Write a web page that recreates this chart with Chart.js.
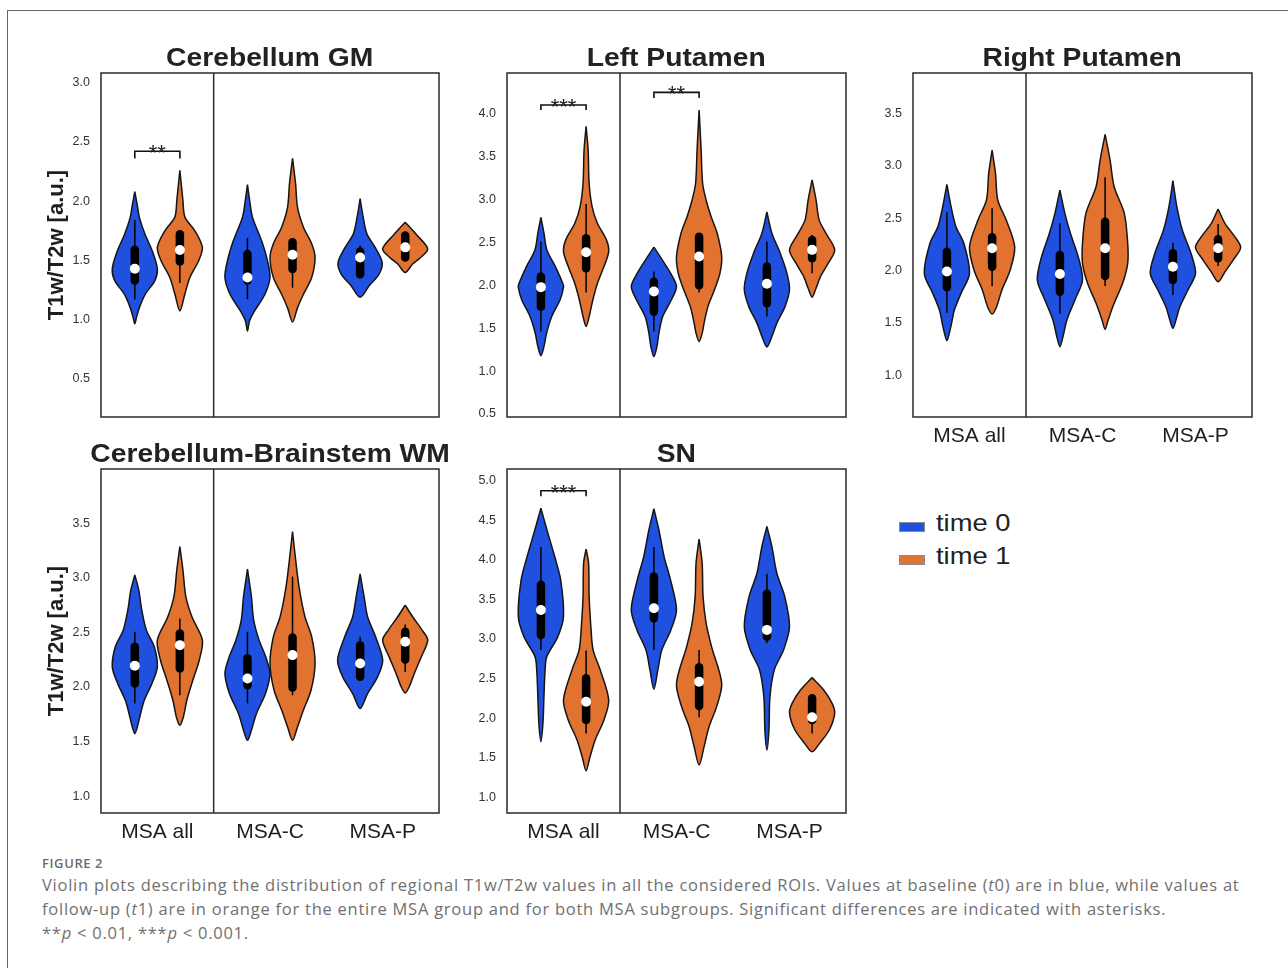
<!DOCTYPE html>
<html>
<head>
<meta charset="utf-8">
<script src="https://cdn.jsdelivr.net/npm/chart.js@4.4.0/dist/chart.umd.min.js"></script>
<style>
html,body{margin:0;padding:0;background:#fff;}
body{width:1288px;height:968px;position:relative;overflow:hidden;font-family:'Liberation Sans',Arial,sans-serif;}
canvas{position:absolute;}
.ptitle{position:absolute;width:600px;text-align:center;font-weight:bold;font-size:25px;line-height:25px;color:#222;white-space:nowrap;}
.ptitle span{display:inline-block;transform:scaleX(1.13);}
.legsw{position:absolute;width:26px;height:10px;box-sizing:border-box;border:1px solid #8a8a8a;}
.legtx{position:absolute;font-size:24px;line-height:24px;color:#222;white-space:nowrap;transform:scaleX(1.14);transform-origin:left center;}
.frame{position:absolute;background:#666;}
#figlabel{position:absolute;left:42px;top:857px;font-family:'Open Sans',sans-serif;font-weight:600;font-size:13px;line-height:13px;color:#6b6b6b;letter-spacing:0.6px;white-space:nowrap;}
#caption{position:absolute;left:42px;top:872.5px;font-family:'Open Sans',sans-serif;font-size:16.5px;line-height:24px;letter-spacing:0.75px;color:#707070;white-space:nowrap;}
</style>
</head>
<body>
<div class="frame" style="left:7px;top:10px;width:1281px;height:1px;"></div>
<div class="frame" style="left:7px;top:10px;width:1px;height:958px;"></div>
<div id="figlabel">FIGURE 2</div>
<div id="caption">Violin plots describing the distribution of regional T1w/T2w values in all the considered ROIs. Values at baseline (<i>t</i>0) are in blue, while values at<br>follow-up (<i>t</i>1) are in orange for the entire MSA group and for both MSA subgroups. Significant differences are indicated with asterisks.<br>**<i>p</i> &lt; 0.01, ***<i>p</i> &lt; 0.001.</div>
<script>
// ---------------- DATA ----------------
const categories = ['MSA all', 'MSA-C', 'MSA-P'];
const seriesNames = ['time 0', 'time 1'];
const yAxisLabel = 'T1w/T2w [a.u.]';

// tick values per panel
const gmTicks = [0.5, 1.0, 1.5, 2.0, 2.5, 3.0];
const lpTicks = [0.5, 1.0, 1.5, 2.0, 2.5, 3.0, 3.5, 4.0];
const rpTicks = [1.0, 1.5, 2.0, 2.5, 3.0, 3.5];
const wmTicks = [1.0, 1.5, 2.0, 2.5, 3.0, 3.5];
const snTicks = [1.0, 1.5, 2.0, 2.5, 3.0, 3.5, 4.0, 4.5, 5.0];

// violin outlines: [value, half-width (density, category units)] per category, top to bottom
// Cerebellum GM
const gmT0 = [
  [[2.08,0],[1.95,0.025],[1.865,0.04],[1.724,0.089],[1.58,0.155],[1.43,0.2],[1.33,0.178],[1.215,0.093],[1.10,0.04],[1.02,0.015],[0.966,0]],
  [[2.14,0],[2.0,0.02],[1.865,0.044],[1.667,0.125],[1.5,0.177],[1.356,0.2],[1.215,0.155],[1.074,0.063],[0.99,0.018],[0.904,0]],
  [[2.02,0],[1.865,0.027],[1.724,0.06],[1.61,0.133],[1.483,0.196],[1.384,0.168],[1.286,0.08],[1.19,0]]
];
const gmT1 = [
  [[2.26,0],[2.006,0.027],[1.865,0.045],[1.75,0.133],[1.61,0.2],[1.50,0.168],[1.356,0.089],[1.215,0.044],[1.074,0]],
  [[2.36,0],[2.147,0.027],[1.95,0.044],[1.78,0.097],[1.64,0.17],[1.525,0.2],[1.356,0.17],[1.215,0.097],[1.10,0.044],[0.98,0]],
  [[1.822,0],[1.724,0.093],[1.597,0.2],[1.513,0.123],[1.47,0.066],[1.398,0]]
];
// Left Putamen
const lpT0 = [
  [[2.79,0],[2.605,0.027],[2.41,0.053],[2.216,0.128],[2.02,0.194],[1.977,0.2],[1.83,0.17],[1.635,0.096],[1.44,0.05],[1.286,0.027],[1.178,0]],
  [[2.442,0],[2.294,0.074],[2.14,0.147],[1.984,0.2],[1.83,0.155],[1.635,0.078],[1.44,0.044],[1.286,0.027],[1.17,0]],
  [[2.852,0],[2.605,0.044],[2.372,0.118],[2.14,0.177],[1.946,0.2],[1.75,0.16],[1.558,0.088],[1.402,0.044],[1.28,0]]
];
const lpT1 = [
  [[3.85,0],[3.573,0.018],[3.186,0.027],[2.914,0.053],[2.72,0.1],[2.527,0.18],[2.39,0.2],[2.216,0.158],[2.02,0.1],[1.83,0.06],[1.635,0.027],[1.52,0]],
  [[4.04,0],[3.573,0.018],[3.186,0.031],[2.992,0.062],[2.8,0.106],[2.605,0.16],[2.333,0.2],[2.14,0.185],[1.946,0.136],[1.75,0.078],[1.558,0.044],[1.44,0.027],[1.344,0]],
  [[3.225,0],[2.992,0.035],[2.76,0.062],[2.605,0.122],[2.411,0.2],[2.256,0.143],[2.10,0.074],[1.965,0.035],[1.86,0]]
];
// Right Putamen
const rpT0 = [
  [[2.822,0],[2.609,0.037],[2.418,0.08],[2.26,0.15],[1.973,0.2],[1.782,0.125],[1.623,0.066],[1.464,0.035],[1.33,0]],
  [[2.768,0],[2.546,0.044],[2.355,0.093],[2.132,0.162],[1.91,0.2],[1.719,0.133],[1.528,0.062],[1.368,0.027],[1.273,0]],
  [[2.857,0],[2.609,0.035],[2.386,0.083],[2.164,0.16],[1.973,0.2],[1.814,0.133],[1.655,0.062],[1.528,0.027],[1.448,0]]
];
const rpT1 = [
  [[3.15,0],[2.927,0.03],[2.673,0.05],[2.482,0.125],[2.227,0.2],[2.005,0.16],[1.81,0.085],[1.655,0.04],[1.585,0]],
  [[3.30,0],[3.054,0.044],[2.80,0.08],[2.546,0.17],[2.26,0.2],[2.069,0.2],[1.878,0.155],[1.687,0.08],[1.528,0.027],[1.439,0]],
  [[2.587,0],[2.45,0.06],[2.323,0.148],[2.22,0.2],[2.10,0.133],[1.989,0.062],[1.893,0]]
];
// Cerebellum-Brainstem WM
const wmT0 = [
  [[3.026,0],[2.888,0.035],[2.704,0.062],[2.52,0.103],[2.368,0.173],[2.184,0.2],[2.032,0.152],[1.879,0.084],[1.726,0.044],[1.634,0.022],[1.573,0]],
  [[3.078,0],[2.827,0.035],[2.613,0.055],[2.429,0.103],[2.276,0.162],[2.124,0.2],[1.94,0.16],[1.757,0.08],[1.604,0.035],[1.512,0]],
  [[3.035,0],[2.827,0.035],[2.643,0.066],[2.46,0.137],[2.245,0.2],[2.093,0.155],[1.94,0.066],[1.803,0]]
];
const wmT1 = [
  [[3.285,0],[3.072,0.027],[2.827,0.053],[2.643,0.107],[2.429,0.2],[2.245,0.172],[2.062,0.115],[1.879,0.062],[1.726,0.031],[1.65,0]],
  [[3.423,0],[3.133,0.031],[2.888,0.062],[2.643,0.11],[2.46,0.17],[2.215,0.2],[1.97,0.164],[1.787,0.096],[1.634,0.044],[1.512,0]],
  [[2.75,0],[2.643,0.066],[2.521,0.15],[2.429,0.2],[2.276,0.143],[2.124,0.081],[2.0,0.035],[1.946,0]]
];
// SN
const snT0 = [
  [[4.65,0],[4.378,0.053],[4.04,0.122],[3.746,0.175],[3.283,0.2],[3.03,0.15],[2.778,0.052],[2.61,0.037],[2.273,0.027],[1.937,0.018],[1.705,0]],
  [[4.643,0],[4.378,0.044],[4.04,0.09],[3.746,0.147],[3.367,0.2],[3.115,0.15],[2.86,0.07],[2.61,0.035],[2.366,0]],
  [[4.42,0],[4.167,0.044],[3.83,0.088],[3.535,0.158],[3.157,0.2],[2.86,0.147],[2.61,0.065],[2.273,0.027],[1.853,0.018],[1.6,0]]
];
const snT1 = [
  [[4.134,0],[3.957,0.022],[3.535,0.027],[3.115,0.044],[2.86,0.062],[2.61,0.125],[2.231,0.2],[1.98,0.158],[1.73,0.081],[1.515,0.035],[1.338,0]],
  [[4.26,0],[3.957,0.027],[3.535,0.035],[3.2,0.062],[2.904,0.11],[2.442,0.2],[2.147,0.155],[1.894,0.088],[1.641,0.044],[1.41,0]],
  [[2.513,0],[2.357,0.103],[2.189,0.177],[2.063,0.2],[1.853,0.152],[1.684,0.066],[1.578,0]]
];

// inner box stats per category: [whisker low, q1, median, q3, whisker high]
const gmT0Box = [[1.17,1.33,1.43,1.59,1.84],[1.173,1.33,1.356,1.554,1.69],[1.384,1.384,1.525,1.575,1.625]];
const gmT1Box = [[1.31,1.49,1.588,1.72,1.72],[1.27,1.427,1.548,1.653,1.653],[1.51,1.525,1.61,1.71,1.724]];
const lpT0Box = [[1.46,1.75,1.977,2.10,2.507],[1.46,1.69,1.926,2.04,2.158],[1.635,1.79,2.016,2.216,2.507]];
const lpT1Box = [[1.914,2.198,2.384,2.547,2.945],[1.914,2.0,2.333,2.565,2.565],[2.14,2.314,2.411,2.527,2.585]];
const rpT0Box = [[1.597,1.84,1.99,2.18,2.555],[1.59,1.798,1.967,2.148,2.45],[1.766,1.91,2.036,2.164,2.265]];
const rpT1Box = [[1.852,2.036,2.212,2.317,2.594],[1.852,1.948,2.212,2.466,2.889],[2.043,2.116,2.212,2.298,2.444]];
const wmT0Box = [[1.849,2.032,2.194,2.368,2.505],[1.849,2.017,2.078,2.262,2.505],[2.093,2.093,2.215,2.383,2.46]];
const wmT1Box = [[1.925,2.17,2.383,2.49,2.628],[1.925,1.995,2.292,2.454,3.01],[2.138,2.252,2.414,2.505,2.573]];
const snT0Box = [[2.86,3.052,3.367,3.683,4.159],[2.86,3.262,3.389,3.788,4.159],[2.947,3.03,3.115,3.57,3.822]];
const snT1Box = [[1.81,1.98,2.21,2.505,2.854],[2.013,2.155,2.462,2.644,2.86],[1.81,1.98,2.013,2.253,2.294]];

// significance: [category index, bracket top, bracket end, label]
const gmSig = [[0, 2.42, 2.36, '**']];
const lpSig = [[0, 4.097, 4.04, '***'], [1, 4.244, 4.18, '**']];
const rpSig = [];
const wmSig = [];
const snSig = [[0, 4.87, 4.80, '***']];

// ---------------- STYLE / LAYOUT ----------------
const COLORS = ['#1f50e0', '#e27230'];
const EDGE = '#151515';
const DODGE = 0.2;
Chart.defaults.font.family = "'Liberation Sans', Arial, sans-serif";

const panels = [
  {title:'Cerebellum GM', left:101, top:73, w:338, h:344, yMin:0.18, yMax:3.08, ticks:gmTicks, t0:gmT0, t1:gmT1, b0:gmT0Box, b1:gmT1Box, sig:gmSig, yTitle:true, xLabels:false},
  {title:'Left Putamen', left:507, top:73, w:339, h:344, yMin:0.465, yMax:4.47, ticks:lpTicks, t0:lpT0, t1:lpT1, b0:lpT0Box, b1:lpT1Box, sig:lpSig, yTitle:false, xLabels:false},
  {title:'Right Putamen', left:913, top:73, w:339, h:344, yMin:0.602, yMax:3.885, ticks:rpTicks, t0:rpT0, t1:rpT1, b0:rpT0Box, b1:rpT1Box, sig:rpSig, yTitle:false, xLabels:true},
  {title:'Cerebellum-Brainstem WM', left:101, top:469, w:338, h:344, yMin:0.847, yMax:3.995, ticks:wmTicks, t0:wmT0, t1:wmT1, b0:wmT0Box, b1:wmT1Box, sig:wmSig, yTitle:true, xLabels:true},
  {title:'SN', left:507, top:469, w:339, h:344, yMin:0.806, yMax:5.144, ticks:snTicks, t0:snT0, t1:snT1, b0:snT0Box, b1:snT1Box, sig:snSig, yTitle:false, xLabels:true}
];

const annotPlugin = {
  id: 'annot',
  afterDatasetsDraw(chart, args, opts) {
    const {ctx, chartArea: a, scales: {x, y}} = chart;
    ctx.save();
    ctx.strokeStyle = '#2a2a2a';
    ctx.lineWidth = 1.5;
    ctx.strokeRect(a.left, a.top, a.right - a.left, a.bottom - a.top);
    ctx.fillStyle = '#222';
    ctx.font = "22px 'Liberation Sans', Arial, sans-serif";
    ctx.textAlign = 'center';
    ctx.textBaseline = 'alphabetic';
    (opts.sig || []).forEach(([c, top, end, label]) => {
      ctx.fillText(label, x.getPixelForValue(c), y.getPixelForValue(top) + 9);
    });
    ctx.restore();
  }
};

function makePanel(p) {
  const yW = p.yTitle ? 57 : 40;
  const padTop = 25, padRight = 25, xH = 45;
  const cw = yW + p.w + padRight, ch = padTop + p.h + xH;
  const cv = document.createElement('canvas');
  cv.width = cw; cv.height = ch;
  cv.style.left = (p.left - yW) + 'px';
  cv.style.top = (p.top - padTop) + 'px';
  cv.style.width = cw + 'px';
  cv.style.height = ch + 'px';
  document.body.appendChild(cv);

  // HTML title
  const t = document.createElement('div');
  t.className = 'ptitle';
  t.style.left = (p.left + p.w / 2 - 300) + 'px';
  t.style.top = (p.top - 28.5) + 'px';
  t.innerHTML = '<span></span>';
  t.firstChild.textContent = p.title;
  document.body.appendChild(t);

  const datasets = [];
  [[p.t0, p.b0], [p.t1, p.b1]].forEach(([profiles, boxes], s) => {
    const off = s === 0 ? -DODGE : DODGE;
    profiles.forEach((prof, c) => {
      const cx = c + off;
      const right = prof.map(([v, w]) => ({x: cx + w, y: v}));
      const left = prof.slice().reverse().map(([v, w]) => ({x: cx - w, y: v}));
      datasets.push({
        label: seriesNames[s] + ' ' + categories[c],
        data: right.concat(left.slice(1)),
        showLine: true, fill: 'shape', backgroundColor: COLORS[s],
        borderColor: EDGE, borderWidth: 1.5, pointRadius: 0, tension: 0.3, order: 10
      });
      const [wl, q1, med, q3, wh] = boxes[c];
      datasets.push({data: [{x: cx, y: wl}, {x: cx, y: wh}], showLine: true, borderColor: '#000', borderWidth: 1.5, pointRadius: 0, order: 8});
      datasets.push({data: [{x: cx, y: q1}, {x: cx, y: q3}], showLine: true, borderColor: '#000', borderWidth: 8.5, borderCapStyle: 'round', pointRadius: 0, order: 6});
      datasets.push({data: [{x: cx, y: med}], showLine: false, pointRadius: 5, pointBackgroundColor: '#fff', pointBorderWidth: 0, order: 4});
    });
  });
  // divider between MSA all and the subgroups
  datasets.push({data: [{x: 0.5, y: p.yMin}, {x: 0.5, y: p.yMax}], showLine: true, borderColor: '#2a2a2a', borderWidth: 1.5, pointRadius: 0, order: 12});
  // significance brackets
  p.sig.forEach(([c, top, end]) => {
    datasets.push({data: [{x: c - DODGE, y: end}, {x: c - DODGE, y: top}, {x: c + DODGE, y: top}, {x: c + DODGE, y: end}],
      showLine: true, borderColor: '#111', borderWidth: 1.6, pointRadius: 0, tension: 0, order: 12});
  });

  new Chart(cv, {
    type: 'scatter',
    data: {datasets},
    plugins: [annotPlugin],
    options: {
      responsive: false, animation: false, events: [],
      devicePixelRatio: 1,
      layout: {padding: {top: padTop, right: padRight, left: 0, bottom: 0}},
      plugins: {legend: {display: false}, tooltip: {enabled: false}, annot: {sig: p.sig}},
      scales: {
        x: {
          type: 'linear', min: -0.5, max: 2.5,
          grid: {display: false, drawTicks: false}, border: {display: false},
          afterBuildTicks: ax => { ax.ticks = categories.map((_, i) => ({value: i})); },
          ticks: {display: p.xLabels, padding: 7, color: '#1e1e1e', font: {size: 21}, autoSkip: false, maxRotation: 0,
            callback: v => categories[Math.round(v)]},
          afterFit: s => { s.height = xH; }
        },
        y: {
          type: 'linear', min: p.yMin, max: p.yMax,
          grid: {display: false, drawTicks: false}, border: {display: false},
          afterBuildTicks: ax => { ax.ticks = p.ticks.map(v => ({value: v})); },
          ticks: {padding: 11, color: '#333', font: {size: 12.5}, callback: v => Number(v).toFixed(1)},
          title: {display: p.yTitle, text: yAxisLabel, color: '#1e1e1e', font: {size: 22, weight: 'bold'}, padding: {top: 0, bottom: 0}},
          afterFit: s => { s.width = yW; }
        }
      }
    }
  });
}
panels.forEach(makePanel);

// legend
seriesNames.forEach((name, i) => {
  const sw = document.createElement('div');
  sw.className = 'legsw';
  sw.style.left = '899px';
  sw.style.top = (522 + i * 33) + 'px';
  sw.style.background = COLORS[i];
  document.body.appendChild(sw);
  const tx = document.createElement('div');
  tx.className = 'legtx';
  tx.style.left = '936px';
  tx.style.top = (510.7 + i * 33) + 'px';
  tx.textContent = name;
  document.body.appendChild(tx);
});
</script>
</body>
</html>
